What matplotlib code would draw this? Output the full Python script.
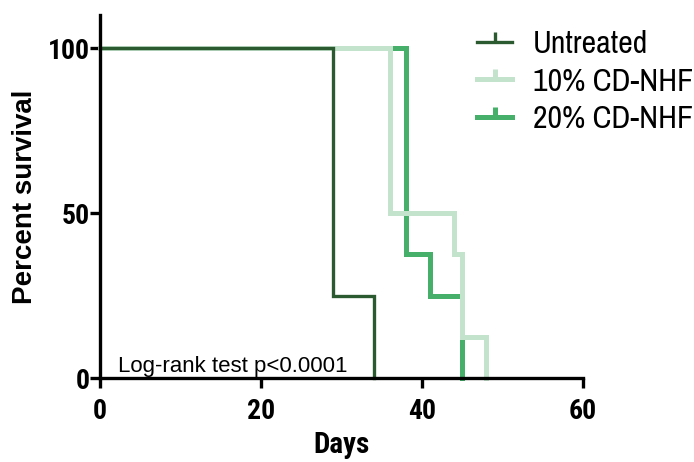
import matplotlib
matplotlib.use("Agg")
import matplotlib.pyplot as plt
from matplotlib import font_manager
from matplotlib.lines import Line2D

# ---- data ----
series_names = ["Untreated", "10% CD-NHF", "20% CD-NHF"]
untreated_days = [0, 29, 34]
untreated_surv = [100, 25, 0]
cd10_days = [0, 36, 44, 45, 48]
cd10_surv = [100, 50, 37.5, 12.5, 0]
cd20_days = [0, 38, 41, 45]
cd20_surv = [100, 37.5, 25, 0]
x_ticks = [0, 20, 40, 60]
y_ticks = [0, 50, 100]
annotation = "Log-rank test p<0.0001"

colors = ["#2b5a30", "#c4e3cc", "#46b06a"]
widths = [2.4, 3.6, 3.6]


def pick(name, fallback="Liberation Sans"):
    try:
        font_manager.findfont(name, fallback_to_default=False)
        return name
    except Exception:
        return fallback

narrow = pick("Archivo Narrow")
narrow_bold = pick("Roboto Condensed")
regular = "Liberation Sans"

fig = plt.figure(figsize=(6.94, 4.62), dpi=100)
W, H = 694, 462
ax = fig.add_axes([100 / W, 1 - 378.3 / H, 483 / W, (378.3 - 15) / H])

data = [(untreated_days, untreated_surv), (cd10_days, cd10_surv), (cd20_days, cd20_surv)]
zorders = [2.3, 2.2, 2.1]
for (d, s), c, lw, z in zip(data, colors, widths, zorders):
    ax.step(d, s, where="post", color=c, lw=lw, zorder=z, clip_on=False,
            solid_joinstyle="miter")

ax.set_xlim(0, 60)
ax.set_ylim(0, 110)
ax.set_xticks(x_ticks)
ax.set_yticks(y_ticks)
for sp in ["top", "right"]:
    ax.spines[sp].set_visible(False)
for sp in ["left", "bottom"]:
    ax.spines[sp].set_linewidth(2.4)
    ax.spines[sp].set_zorder(3)
ax.tick_params(axis="both", direction="out", length=7, width=2.4, color="black")
ax.tick_params(axis="y", pad=0.5)
ax.tick_params(axis="x", pad=7)
for lab in ax.get_xticklabels() + ax.get_yticklabels():
    lab.set_fontfamily(narrow_bold)
    lab.set_fontweight("bold")
    lab.set_fontsize(20)

ax.set_xlabel("Days", fontfamily=narrow_bold, fontweight="bold", fontsize=21)
ax.xaxis.set_label_coords(0.5, -0.145)
ax.set_ylabel("Percent survival", fontfamily=regular, fontweight="bold", fontsize=20)
ax.yaxis.set_label_coords(-0.128, 0.5)

ax.text(18 / 483, 6 / 363, annotation, fontfamily=regular,
        fontsize=16, ha="left", va="baseline", transform=ax.transAxes)

handles = [Line2D([], [], color=c, lw=lw, marker=2, markersize=7, markeredgewidth=lw)
           for c, lw in zip(colors, widths)]
leg = ax.legend(handles, series_names, loc="upper left",
                bbox_to_anchor=(477 / W, 1 - 30 / H), bbox_transform=fig.transFigure,
                frameon=False, prop={"family": narrow, "size": 23},
                handlelength=1.1, handletextpad=0.65, labelspacing=0.3,
                borderaxespad=0, borderpad=0)

fig.savefig("out.png", dpi=100)
